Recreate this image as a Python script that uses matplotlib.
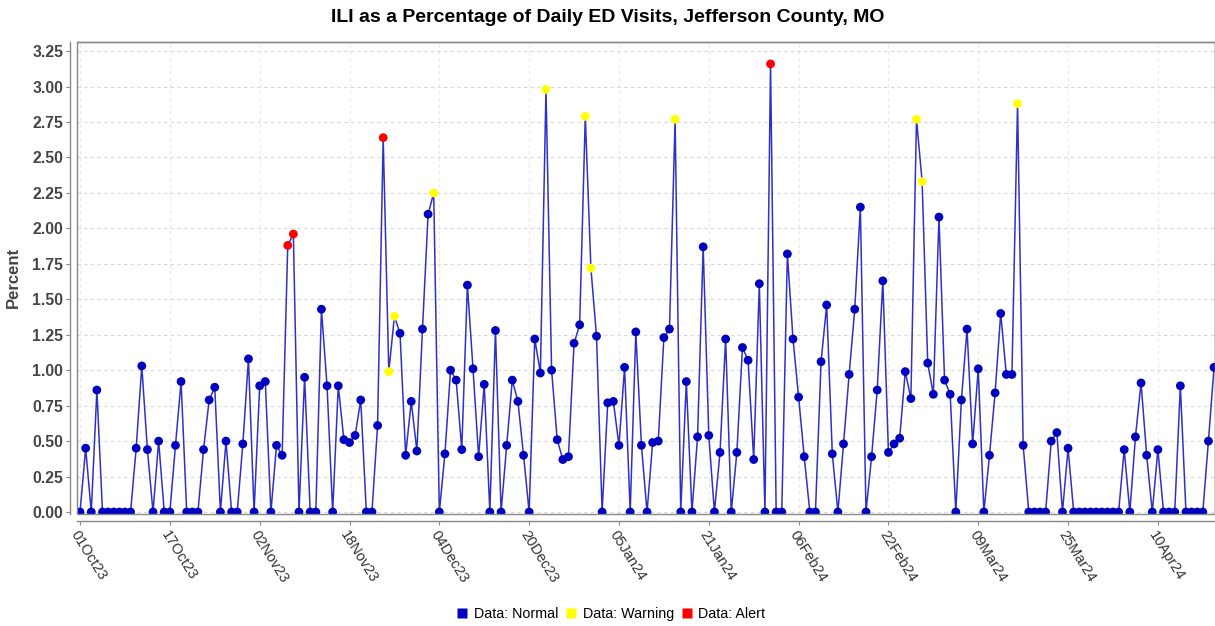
import matplotlib
matplotlib.use("Agg")
import matplotlib.pyplot as plt
import matplotlib.dates as mdates
from matplotlib.lines import Line2D
from matplotlib.patches import Rectangle
import pandas as pd
import numpy as np

plt.rcParams['font.family'] = ['Liberation Sans', 'DejaVu Sans']

start_date = "2023-10-01"
values = [
    0, 0.45, 0, 0.86, 0, 0, 0, 0, 0, 0,
    0.45, 1.03, 0.44, 0, 0.50, 0, 0, 0.47, 0.92, 0,
    0, 0, 0.44, 0.79, 0.88, 0, 0.50, 0, 0, 0.48,
    1.08, 0, 0.89, 0.92, 0, 0.47, 0.40, 1.88, 1.96, 0,
    0.95, 0, 0, 1.43, 0.89, 0, 0.89, 0.51, 0.49, 0.54,
    0.79, 0, 0, 0.61, 2.64, 0.99, 1.38, 1.26, 0.40, 0.78,
    0.43, 1.29, 2.10, 2.25, 0, 0.41, 1.00, 0.93, 0.44, 1.60,
    1.01, 0.39, 0.90, 0, 1.28, 0, 0.47, 0.93, 0.78, 0.40,
    0, 1.22, 0.98, 2.98, 1.00, 0.51, 0.37, 0.39, 1.19, 1.32,
    2.79, 1.72, 1.24, 0, 0.77, 0.78, 0.47, 1.02, 0, 1.27,
    0.47, 0, 0.49, 0.50, 1.23, 1.29, 2.77, 0, 0.92, 0,
    0.53, 1.87, 0.54, 0, 0.42, 1.22, 0, 0.42, 1.16, 1.07,
    0.37, 1.61, 0, 3.16, 0, 0, 1.82, 1.22, 0.81, 0.39,
    0, 0, 1.06, 1.46, 0.41, 0, 0.48, 0.97, 1.43, 2.15,
    0, 0.39, 0.86, 1.63, 0.42, 0.48, 0.52, 0.99, 0.80, 2.77,
    2.33, 1.05, 0.83, 2.08, 0.93, 0.83, 0, 0.79, 1.29, 0.48,
    1.01, 0, 0.40, 0.84, 1.40, 0.97, 0.97, 2.88, 0.47, 0,
    0, 0, 0, 0.50, 0.56, 0, 0.45, 0, 0, 0,
    0, 0, 0, 0, 0, 0, 0.44, 0, 0.53, 0.91,
    0.40, 0, 0.44, 0, 0, 0, 0.89, 0, 0, 0,
    0, 0.50, 1.02,
]
warning_days = [55, 56, 63, 83, 90, 91, 106, 149, 150, 167]
alert_days = [37, 38, 54, 123]

title = "ILI as a Percentage of Daily ED Visits, Jefferson County, MO"
y_label = "Percent"
legend_labels = ["Data: Normal", "Data: Warning", "Data: Alert"]
status_colors = {"normal": "#0000C0", "warning": "#FFFF00", "alert": "#FF0000"}
y_ticks = [0.00, 0.25, 0.50, 0.75, 1.00, 1.25, 1.50, 1.75, 2.00, 2.25, 2.50, 2.75, 3.00, 3.25]
tick_step_days = 16

dates = pd.date_range(start_date, periods=len(values), freq="D")
status = np.array(["normal"] * len(values), dtype=object)
status[warning_days] = "warning"
status[alert_days] = "alert"
colors = [status_colors[s] for s in status]

W, H = 1215, 626
fig = plt.figure(figsize=(W / 100, H / 100), dpi=100)
left_px, right_px, top_px, bottom_px = 77, 1214.5, 41.5, 513.5
ax = fig.add_axes([left_px / W, 1 - bottom_px / H, (right_px - left_px) / W, (bottom_px - top_px) / H])

ax.plot(dates, values, color="#3030C8", lw=1.1, zorder=2)
ax.scatter(dates, values, c=colors, s=40, zorder=3, linewidths=0)

for sp in ax.spines.values():
    sp.set_color("#888888")
    sp.set_linewidth(1.0)
ax.spines["left"].set_position(("outward", 5))
ax.spines["bottom"].set_position(("outward", 5.5))
ax.add_patch(Rectangle((0, 0), 1, 1, transform=ax.transAxes, fill=False,
                       ec="#888888", lw=1.0, clip_on=False, zorder=5))

ax.set_ylim(-0.0106, 3.318)
ax.set_xlim(dates[0] - pd.Timedelta(hours=13), dates[-1] + pd.Timedelta(hours=2))
ax.set_yticks(y_ticks)
ax.set_yticklabels([f"{t:.2f}" for t in y_ticks])
ax.set_xticks(dates[::tick_step_days])
ax.xaxis.set_major_formatter(mdates.DateFormatter("%d%b%y"))

ax.tick_params(axis="both", direction="out", length=3, color="#888888", pad=2)
plt.setp(ax.get_yticklabels(), fontweight="bold", fontsize=11.3, color="#444444")
plt.setp(ax.get_xticklabels(), rotation=-58, ha="left", va="top", rotation_mode="anchor",
         fontsize=10.5, color="#333333")

ax.grid(True, axis="y", color="#D8D8D8", linestyle=(0, (3, 3)), lw=0.8, zorder=0)
ax.grid(True, axis="x", color="#E8E8E8", linestyle=(0, (3, 3)), lw=0.8, zorder=0)

ax.set_ylabel(y_label, fontweight="bold", fontsize=12, color="#444444", labelpad=8)
fig.text(0.5, 0.972, title, ha="center", va="center", fontweight="bold", fontsize=14)

handles = [Line2D([0], [0], marker="s", color="none", markerfacecolor=status_colors[k],
                  markeredgecolor="none", markersize=7.2)
           for k in ["normal", "warning", "alert"]]
fig.legend(handles, legend_labels, loc="center", bbox_to_anchor=(0.503, 0.019), ncol=3,
           frameon=False, fontsize=10.3, handlelength=0.75, handletextpad=0.45,
           columnspacing=0.5)

fig.savefig("out.png", dpi=100)
